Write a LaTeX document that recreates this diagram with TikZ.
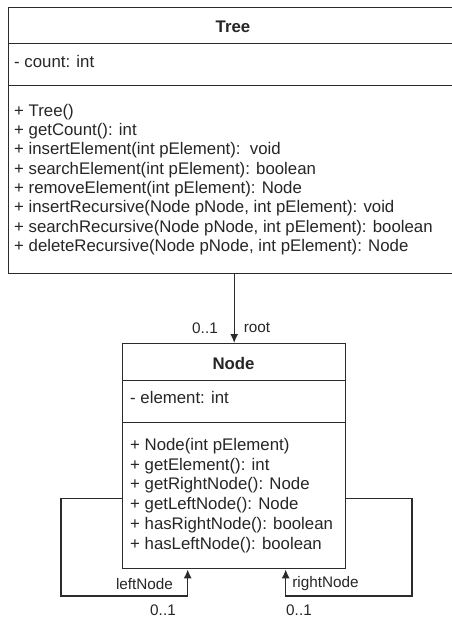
\documentclass[tikz,border=0pt]{standalone}
\usepackage{fontspec}
\setmainfont{Liberation Sans}
\usetikzlibrary{arrows.meta}
\definecolor{linec}{HTML}{2B2B2B}
\definecolor{textc}{HTML}{262626}
\tikzset{
  comp/.style={draw=linec, line width=1.4pt, rectangle, inner sep=0pt, anchor=north west},
  txt/.style={font=\fontsize{16.8}{19.5}\selectfont, text=textc, inner sep=0pt, anchor=west, text height=12pt, text depth=3.5pt},
  ttl/.style={font=\fontsize{16.8}{19.5}\selectfont\bfseries, text=textc, inner sep=0pt, anchor=center},
  lbl/.style={font=\fontsize{15.3}{18}\selectfont, text=textc, inner sep=0pt, anchor=center},
  conn/.style={draw=linec, line width=1.4pt, -{Latex[length=9pt,width=8pt]}}
}
\begin{document}
\begin{tikzpicture}[x=1pt,y=-1pt]
\useasboundingbox[fill=white] (0,0) rectangle (452,619);
% Tree class
\node[comp, minimum width=452pt, minimum height=36pt] (treehead) at (8,7) {};
\node[comp, minimum width=452pt, minimum height=42pt] (treeattr) at (8,43) {};
\node[comp, minimum width=452pt, minimum height=188pt] (treeops) at (8,85) {};
\node[ttl] (treetitle) at (233,27) {Tree};
\node[txt] (treea1) at (14,63.5) {- count: int};
\foreach \t [count=\i from 0] in {%
  {+ Tree()},
  {+ getCount(): int},
  {+ insertElement(int pElement):\ \ void},
  {+ searchElement(int pElement): boolean},
  {+ removeElement(int pElement): Node},
  {+ insertRecursive(Node pNode, int pElement): void},
  {+ searchRecursive(Node pNode, int pElement): boolean},
  {+ deleteRecursive(Node pNode, int pElement): Node}}{
  \node[txt] (treem\i) at (14,{111.8+19.35*\i}) {\t};
}
% Node class
\node[comp, minimum width=223pt, minimum height=37pt] (nodehead) at (122,343) {};
\node[comp, minimum width=223pt, minimum height=42pt] (nodeattr) at (122,380) {};
\node[comp, minimum width=223pt, minimum height=146pt] (nodeops) at (122,422) {};
\node[ttl] (nodetitle) at (233.5,363) {Node};
\node[txt] (nodea1) at (130,399.5) {- element: int};
\foreach \t [count=\i from 0] in {%
  {+ Node(int pElement)},
  {+ getElement(): int},
  {+ getRightNode(): Node},
  {+ getLeftNode(): Node},
  {+ hasRightNode(): boolean},
  {+ hasLeftNode(): boolean}}{
  \node[txt] (nodem\i) at (130,{446+19.8*\i}) {\t};
}
% root association
\draw[conn] (treeops.south -| nodehead.north) -- (nodehead.north);
\node[lbl] (rootmult) at (205,328) {0..1};
\node[lbl] (rootname) at (257,328) {root};
% self associations
\coordinate (lb) at (61,596);
\coordinate (rb) at (412,596);
\draw[conn] ([yshift=-3pt]nodeops.west) -| (lb) -| ([xshift=-46.5pt]nodeops.south);
\draw[conn] ([yshift=-3pt]nodeops.east) -| (rb) -| ([xshift=51.5pt]nodeops.south);
\node[lbl] (leftname) at (144.5,584) {leftNode};
\node[lbl] (leftmult) at (163,610) {0..1};
\node[lbl] (rightname) at (325.5,584) {rightNode};
\node[lbl] (rightmult) at (299,610) {0..1};
\end{tikzpicture}
\end{document}
